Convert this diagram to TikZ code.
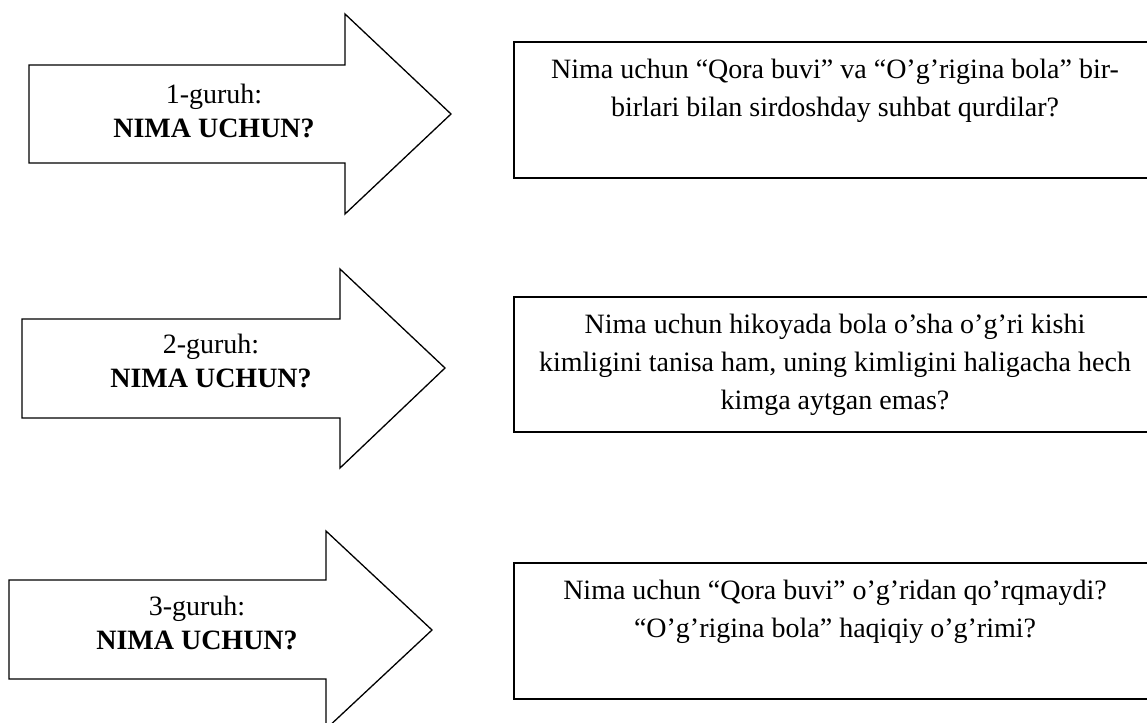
\documentclass[tikz,border=0pt]{standalone}
\usepackage{fontspec}
\setmainfont{Liberation Serif}
\begin{document}
\begin{tikzpicture}[x=1pt,y=-1pt,
  arrowshape/.style={draw,line width=1.3pt,line join=miter,fill=white},
  qbox/.style={draw,line width=1.4pt},
  atext/.style={align=center,font=\fontsize{28}{34}\selectfont,inner sep=0pt},
  btext/.style={align=center,font=\fontsize{28}{38}\selectfont,inner sep=0pt,anchor=north}]
\useasboundingbox (0,0) rectangle (1147,722);
\clip (0,0) rectangle (1147,722);
% arrows
\draw[arrowshape] (29,65) -- (345,65) -- (345,14) -- (451,114) -- (345,214) -- (345,163) -- (29,163) -- cycle;
\draw[arrowshape] (22,319) -- (340,319) -- (340,269) -- (445,368) -- (340,468) -- (340,418) -- (22,418) -- cycle;
\draw[arrowshape] (9,580) -- (326,580) -- (326,531) -- (432,630) -- (326,729) -- (326,679) -- (9,679) -- cycle;
\node[atext] (g1) at (214,111) {1-guruh:\\\textbf{NIMA UCHUN?}};
\node[atext] (g2) at (211,361) {2-guruh:\\\textbf{NIMA UCHUN?}};
\node[atext] (g3) at (197,623) {3-guruh:\\\textbf{NIMA UCHUN?}};
% boxes
\draw[qbox] (514,42) rectangle (1156,178);
\draw[qbox] (514,297) rectangle (1156,432);
\draw[qbox] (514,563) rectangle (1156,699);
\node[btext] (q1) at (835,59) {Nima uchun “Qora buvi” va “O’g’rigina bola” bir-\\birlari bilan sirdoshday suhbat qurdilar?};
\node[btext] (q2) at (835,314) {Nima uchun hikoyada bola o’sha o’g’ri kishi\\kimligini tanisa ham, uning kimligini haligacha hech\\kimga aytgan emas?};
\node[btext] (q3) at (835,580) {Nima uchun “Qora buvi” o’g’ridan qo’rqmaydi?\\“O’g’rigina bola” haqiqiy o’g’rimi?};
\end{tikzpicture}
\end{document}
